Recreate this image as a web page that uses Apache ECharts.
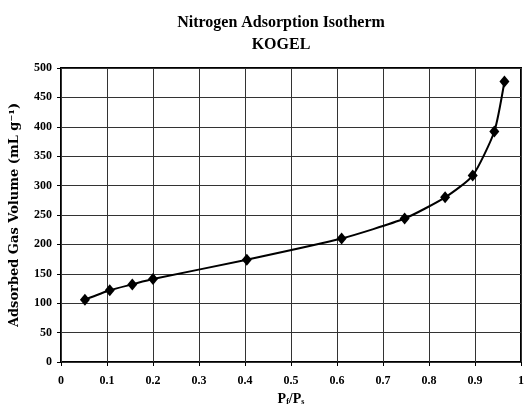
<!DOCTYPE html>
<html><head><meta charset="utf-8">
<script src="https://cdn.jsdelivr.net/npm/echarts@6/dist/echarts.min.js"></script>
<style>html,body{margin:0;padding:0;background:#fff}#c{width:527px;height:412px}</style>
</head><body><div id="c"></div>
<script>
const pressure = [0.052, 0.106, 0.155, 0.200, 0.404, 0.610, 0.747, 0.835, 0.895, 0.942, 0.964];
const volume = [106, 122, 132, 141, 174, 210, 244, 280, 317, 392, 477];
const titleLines = ['Nitrogen Adsorption Isotherm', 'KOGEL'];
const yName = 'Adsorbed Gas Volume (mL g\u207B\u00B9)';

const font = 'Liberation Serif';
const chart = echarts.init(document.getElementById('c'));
chart.setOption({
  backgroundColor: '#fff',
  animation: false,
  title: {
    text: titleLines.join('\n'),
    left: 276, top: 7, textAlign: 'center',
    textStyle: {fontFamily: font, fontWeight: 'bold', fontSize: 16, color: '#000', lineHeight: 22}
  },
  grid: {left: 61, right: 4, top: 68, bottom: 50, show: true, borderColor: '#000', borderWidth: 2},
  xAxis: {
    type: 'value', min: 0, max: 1, interval: 0.1,
    name: 'P{s|f}/P{s|s}', nameLocation: 'middle', nameGap: 29,
    nameTextStyle: {fontFamily: font, fontWeight: 'bold', fontSize: 14, color: '#000',
      rich: {s: {fontFamily: font, fontWeight: 'bold', fontSize: 8, color: '#000', verticalAlign: 'bottom', padding: [6,0,0,0]}}},
    axisLine: {show: false},
    axisTick: {show: true, length: 4, lineStyle: {color: '#000'}},
    axisLabel: {fontFamily: font, fontWeight: 'bold', fontSize: 12, color: '#000', margin: 13},
    splitLine: {show: true, lineStyle: {color: '#333', width: 1}}
  },
  yAxis: {
    type: 'value', min: 0, max: 500, interval: 50,
    name: yName, nameLocation: 'middle', nameGap: 40, nameRotate: 90,
    nameTextStyle: {fontFamily: 'DejaVu Serif', fontWeight: 'bold', fontSize: 13, color: '#000'},
    axisLine: {show: false},
    axisTick: {show: true, length: 4, lineStyle: {color: '#000'}},
    axisLabel: {fontFamily: font, fontWeight: 'bold', fontSize: 12, color: '#000', margin: 9},
    splitLine: {show: true, lineStyle: {color: '#333', width: 1}}
  },
  series: [{
    type: 'line',
    data: pressure.map((p, i) => [p, volume[i]]),
    smooth: 0.2,
    symbol: 'diamond', symbolSize: [10, 12],
    itemStyle: {color: '#000'},
    lineStyle: {color: '#000', width: 2}
  }]
});
</script></body></html>
